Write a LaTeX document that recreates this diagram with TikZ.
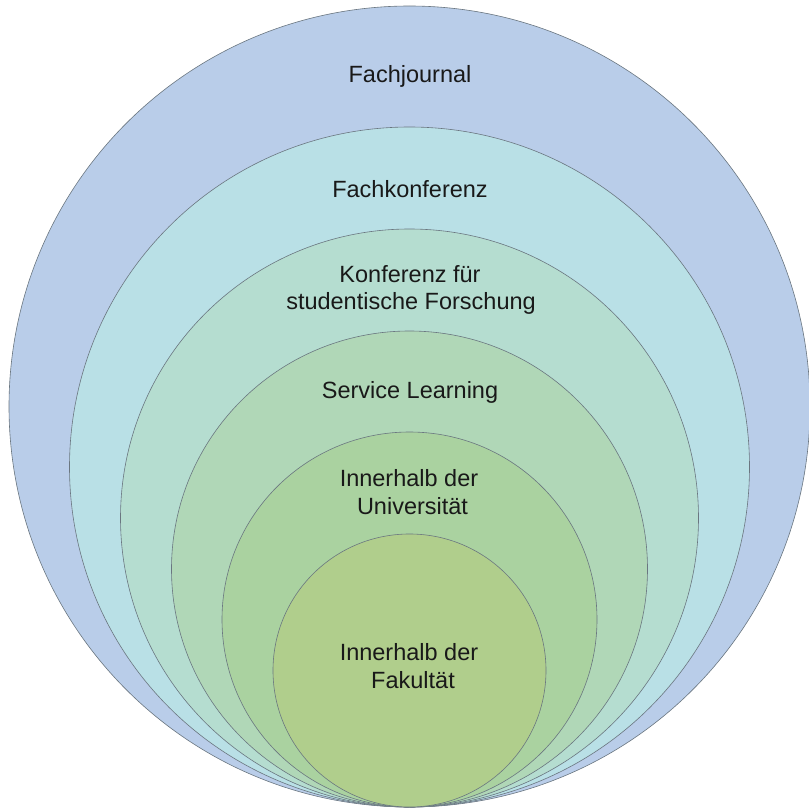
\documentclass[tikz,border=0pt]{standalone}
\usepackage{fontspec}
\setmainfont{Liberation Sans}
\definecolor{cA}{HTML}{B9CDE9}
\definecolor{cB}{HTML}{B9E0E6}
\definecolor{cC}{HTML}{B5DDD0}
\definecolor{cD}{HTML}{B0D7B7}
\definecolor{cE}{HTML}{AAD2A0}
\definecolor{cF}{HTML}{B0CE8C}
\definecolor{ringline}{HTML}{6A7680}
\begin{document}
\begin{tikzpicture}[x=1pt,y=-1pt,
  ring/.style={draw=ringline,line width=0.6pt},
  lbl/.style={anchor=base,inner sep=0pt,font=\fontsize{23.5}{27}\selectfont,text=black!90}]
\useasboundingbox (0,0) rectangle (809,808);
\fill[white] (0,0) rectangle (809,808);
\begin{scope}
\clip (0,0) rectangle (809,808);
\path[ring,fill=cA] (409.5,406.5) circle (400.5);
\path[ring,fill=cB] (409.5,467) circle (340);
\path[ring,fill=cC] (409.5,518) circle (289);
\path[ring,fill=cD] (409.5,569) circle (238);
\path[ring,fill=cE] (409.5,619.5) circle (187.5);
\path[ring,fill=cF] (409.5,670.5) circle (136.5);
\end{scope}
\node[lbl] (t1) at (410,82) {Fachjournal};
\node[lbl] (t2) at (410,197) {Fachkonferenz};
\node[lbl] (t3a) at (410,282) {Konferenz für};
\node[lbl] (t3b) at (411,309) {studentische Forschung};
\node[lbl] (t4) at (410,398) {Service Learning};
\node[lbl] (t5a) at (409,486) {Innerhalb der};
\node[lbl] (t5b) at (412.5,514) {Universität};
\node[lbl] (t6a) at (409,660) {Innerhalb der};
\node[lbl] (t6b) at (413,688) {Fakultät};
\end{tikzpicture}
\end{document}
